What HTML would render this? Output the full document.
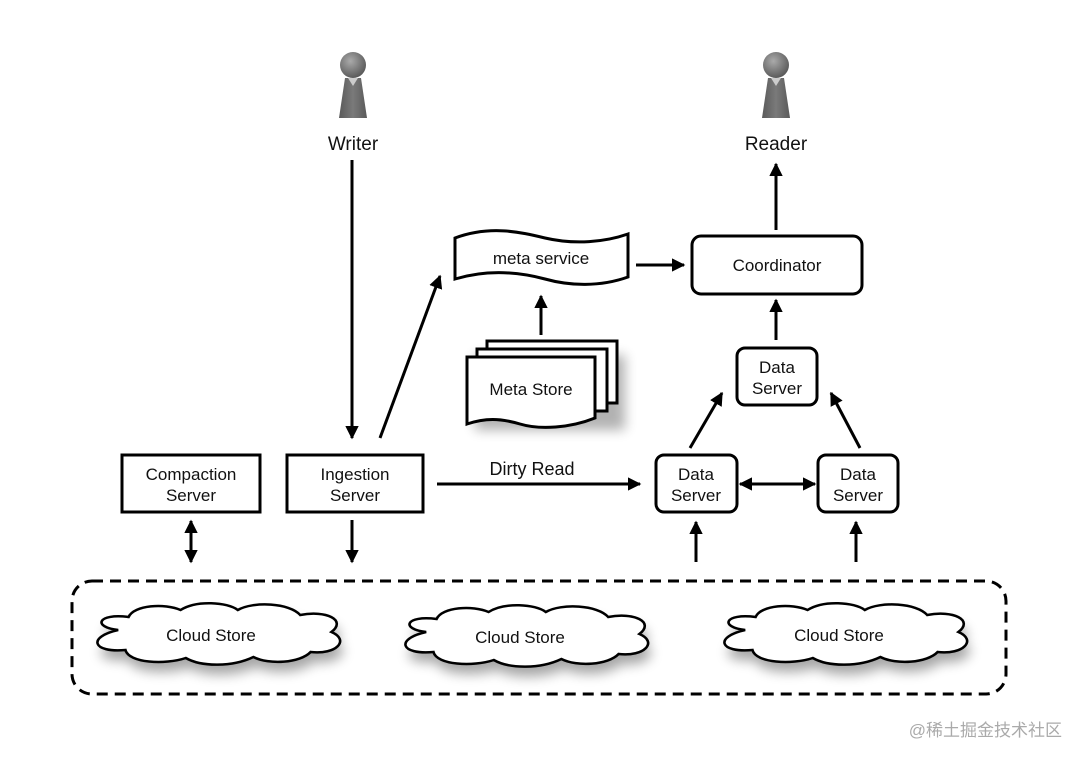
<!DOCTYPE html>
<html><head><meta charset="utf-8"><style>
html,body{margin:0;padding:0;background:#fff}
svg{display:block}
text{font-family:"Liberation Sans","DejaVu Sans",sans-serif;fill:#111}
</style></head><body>
<svg width="1084" height="760" viewBox="0 0 1084 760" xmlns="http://www.w3.org/2000/svg">
<defs>
<marker id="a" viewBox="0 0 10 10" refX="9" refY="5" markerWidth="4.5" markerHeight="4.5" orient="auto-start-reverse"><path d="M0,0 L10,5 L0,10 z" fill="#000"/></marker>
<filter id="sh" x="-20%" y="-20%" width="150%" height="170%"><feGaussianBlur stdDeviation="6"/></filter>
<radialGradient id="hg" cx="0.4" cy="0.35" r="0.7"><stop offset="0" stop-color="#aaa"/><stop offset="1" stop-color="#555"/></radialGradient>
<linearGradient id="bg" x1="0" x2="1"><stop offset="0" stop-color="#5a5a5a"/><stop offset="0.5" stop-color="#7a7a7a"/><stop offset="1" stop-color="#5a5a5a"/></linearGradient>
<path id="cloud" d="M-95,-5 C-120,-8 -115,-22 -85,-18 C-80,-30 -50,-32 -35,-25 C-20,-35 10,-33 20,-25 C35,-34 70,-32 80,-20 C105,-25 125,-15 110,-3 C128,5 115,20 90,17 C80,28 50,30 35,22 C15,32 -15,32 -30,23 C-50,30 -85,28 -88,15 C-120,18 -125,2 -95,-5 Z"/>
</defs>

<g>
<path d="M345,78 L361,78 L367,118 L339,118 Z" fill="url(#bg)"/>
<path d="M348,78 L353,86 L358,78 Z" fill="#ccc"/>
<circle cx="353" cy="65" r="13" fill="url(#hg)"/>
<path d="M768,78 L784,78 L790,118 L762,118 Z" fill="url(#bg)"/>
<path d="M771,78 L776,86 L781,78 Z" fill="#ccc"/>
<circle cx="776" cy="65" r="13" fill="url(#hg)"/>
</g>
<text x="353" y="150" font-size="19" text-anchor="middle">Writer</text>
<text x="776" y="150" font-size="19" text-anchor="middle">Reader</text>

<g stroke="#000" stroke-width="3" fill="none">
<line x1="352" y1="160" x2="352" y2="438" marker-end="url(#a)"/>
<line x1="380" y1="438" x2="440" y2="276" marker-end="url(#a)"/>
<line x1="541" y1="335" x2="541" y2="296" marker-end="url(#a)"/>
<line x1="636" y1="265" x2="684" y2="265" marker-end="url(#a)"/>
<line x1="776" y1="230" x2="776" y2="164" marker-end="url(#a)"/>
<line x1="776" y1="340" x2="776" y2="300" marker-end="url(#a)"/>
<line x1="690" y1="448" x2="722" y2="393" marker-end="url(#a)"/>
<line x1="860" y1="448" x2="831" y2="393" marker-end="url(#a)"/>
<line x1="740" y1="484" x2="815" y2="484" marker-start="url(#a)" marker-end="url(#a)"/>
<line x1="437" y1="484" x2="640" y2="484" marker-end="url(#a)"/>
<line x1="191" y1="521" x2="191" y2="562" marker-start="url(#a)" marker-end="url(#a)"/>
<line x1="352" y1="520" x2="352" y2="562" marker-end="url(#a)"/>
<line x1="696" y1="562" x2="696" y2="522" marker-end="url(#a)"/>
<line x1="856" y1="562" x2="856" y2="522" marker-end="url(#a)"/>
</g>
<text x="532" y="475" font-size="18" text-anchor="middle">Dirty Read</text>

<g stroke="#000" stroke-width="3" fill="#fff">
<rect x="122" y="455" width="138" height="57"/>
<rect x="287" y="455" width="136" height="57"/>
<rect x="692" y="236" width="170" height="58" rx="9"/>
<rect x="737" y="348" width="80" height="57" rx="8"/>
<rect x="656" y="455" width="81" height="57" rx="8"/>
<rect x="818" y="455" width="80" height="57" rx="8"/>
</g>
<g font-size="17" text-anchor="middle">
<text x="191" y="480">Compaction</text><text x="191" y="501">Server</text>
<text x="355" y="480">Ingestion</text><text x="355" y="501">Server</text>
<text x="777" y="271">Coordinator</text>
<text x="777" y="373">Data</text><text x="777" y="394">Server</text>
<text x="696" y="480">Data</text><text x="696" y="501">Server</text>
<text x="858" y="480">Data</text><text x="858" y="501">Server</text>
</g>

<path d="M455,238 C490,225 520,232 545,238 C575,245 605,242 628,234 L628,277 C600,287 570,286 545,279 C515,271 485,270 455,279 Z" fill="#fff" stroke="#000" stroke-width="3"/>
<text x="541" y="264" font-size="17" text-anchor="middle">meta service</text>

<rect x="475" y="355" width="150" height="75" fill="#000" opacity="0.3" filter="url(#sh)"/>
<g stroke="#000" stroke-width="3" fill="#fff">
<rect x="487" y="341" width="130" height="62"/>
<rect x="477" y="349" width="130" height="62"/>
<path d="M467,357 L595,357 L595,418 C570,428 540,430 520,424 C500,418 485,418 467,424 Z"/>
</g>
<text x="531" y="395" font-size="17" text-anchor="middle">Meta Store</text>

<rect x="72" y="581" width="934" height="113" rx="20" fill="none" stroke="#000" stroke-width="3" stroke-dasharray="11,7"/>

<g>
<use href="#cloud" transform="translate(220,645) scale(1.04,1)" fill="#000" opacity="0.35" filter="url(#sh)"/>
<use href="#cloud" transform="translate(528,647) scale(1.04,1)" fill="#000" opacity="0.35" filter="url(#sh)"/>
<use href="#cloud" transform="translate(847,645) scale(1.04,1)" fill="#000" opacity="0.35" filter="url(#sh)"/>
<use href="#cloud" transform="translate(217,635) scale(1.04,1)" fill="#fff" stroke="#000" stroke-width="2.5"/>
<use href="#cloud" transform="translate(525,637) scale(1.04,1)" fill="#fff" stroke="#000" stroke-width="2.5"/>
<use href="#cloud" transform="translate(844,635) scale(1.04,1)" fill="#fff" stroke="#000" stroke-width="2.5"/>
</g>
<g font-size="17" text-anchor="middle">
<text x="211" y="641">Cloud Store</text>
<text x="520" y="643">Cloud Store</text>
<text x="839" y="641">Cloud Store</text>
</g>

<text x="1062" y="736" font-size="17" text-anchor="end" style="fill:#aaa;font-family:'Liberation Sans','Noto Sans CJK SC',sans-serif">@稀土掘金技术社区</text>
</svg>
</body></html>
